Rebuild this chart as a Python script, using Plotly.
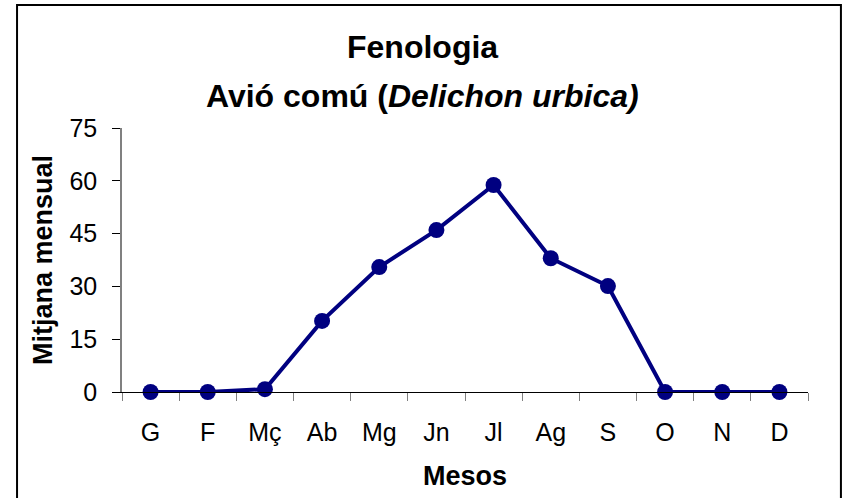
"""Fenologia: mitjana mensual de l'avió comú."""

import plotly.graph_objects as go

mesos = ["G", "F", "Mç", "Ab", "Mg", "Jn", "Jl", "Ag", "S", "O", "N", "D"]
mitjana = [0, 0, 0.8, 20.2, 35.5, 46, 58.8, 38, 30.1, 0, 0, 0]
y_ticks = [0, 15, 30, 45, 60, 75]

NAVY = "#000080"
FONT = "Liberation Sans, Arial, sans-serif"

fig = go.Figure()
fig.add_trace(
    go.Scatter(
        x=mesos,
        y=mitjana,
        mode="lines+markers",
        line=dict(color=NAVY, width=4),
        marker=dict(color=NAVY, size=16),
        cliponaxis=False,
        showlegend=False,
    )
)

# plot area: x 122..808 px, y 128..392 px
fig.update_layout(
    width=845,
    height=498,
    margin=dict(l=122, r=37, t=128, b=106),
    paper_bgcolor="white",
    plot_bgcolor="white",
    font=dict(family=FONT, color="black", size=25),
    annotations=[
        dict(
            text="<b>Fenologia</b>",
            xref="paper", yref="paper",
            x=0.438, y=1.306,
            xanchor="center", yanchor="middle",
            showarrow=False,
            font=dict(size=32),
        ),
        dict(
            text="<b>Avió comú (<i>Delichon urbica)</i></b>",
            xref="paper", yref="paper",
            x=0.438, y=1.12,
            xanchor="center", yanchor="middle",
            showarrow=False,
            font=dict(size=32),
        ),
    ],
    shapes=[
        dict(
            type="rect",
            xref="paper",
            yref="paper",
            x0=-0.153,
            x1=1.048,
            y0=-0.42,
            y1=1.466,
            line=dict(color="black", width=2),
            fillcolor="rgba(0,0,0,0)",
            layer="below",
        )
    ],
)

fig.update_xaxes(
    type="category",
    range=[-0.5, 11.5],
    tickson="boundaries",
    ticks="outside",
    ticklen=8,
    tickcolor="#808080",
    ticklabelstandoff=18,
    showline=True,
    linecolor="black",
    linewidth=1,
    showgrid=False,
    tickfont=dict(size=25),
    title=dict(text="<b>Mesos</b>", font=dict(size=27), standoff=21),
)
fig.update_yaxes(
    range=[0, 75],
    tickvals=y_ticks,
    ticks="outside",
    ticklen=8,
    tickcolor="black",
    ticklabelstandoff=10,
    showline=True,
    linecolor="#808080",
    linewidth=1.5,
    showgrid=False,
    zeroline=False,
    tickfont=dict(size=25),
    title=dict(text="<b>Mitjana mensual</b>", font=dict(size=27), standoff=9),
)

fig.write_html(
    "out.html",
    config={"displayModeBar": False},
    post_script="document.body.style.margin='0';",
)
